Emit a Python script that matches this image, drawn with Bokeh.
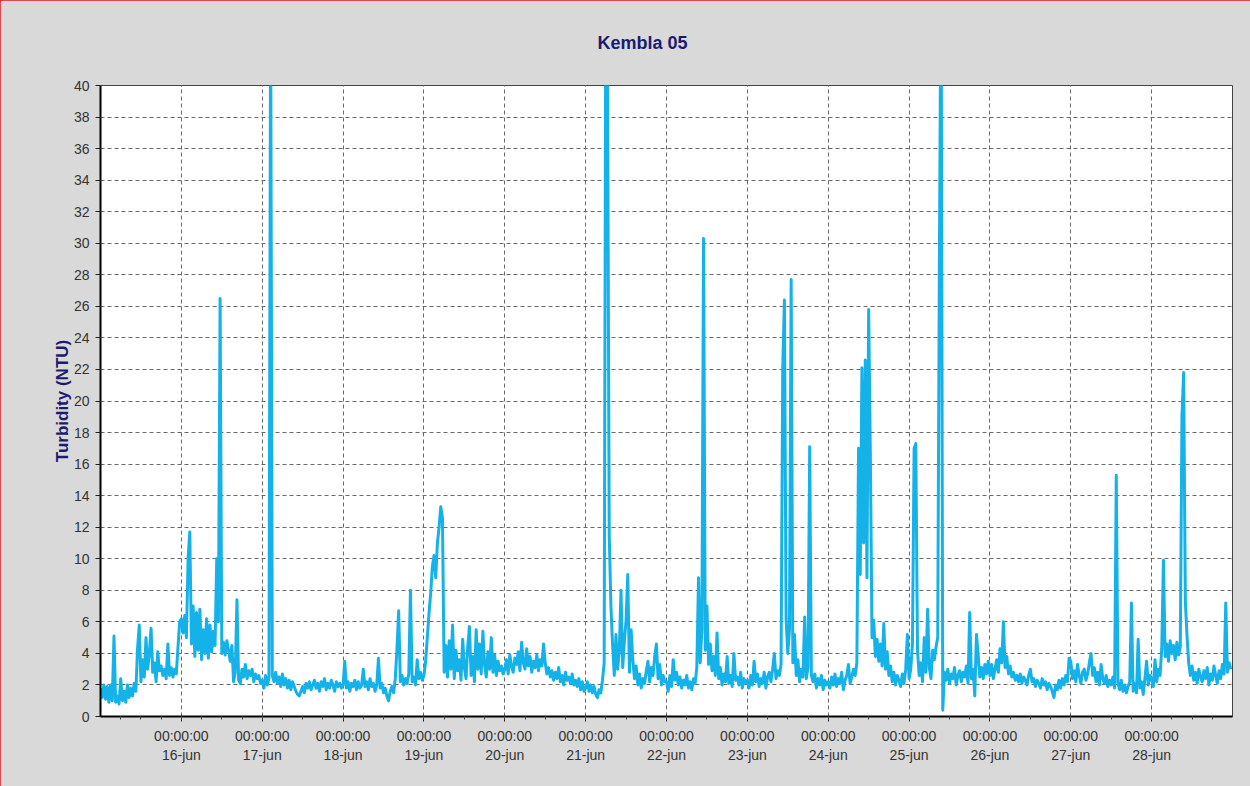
from bokeh.plotting import figure
from bokeh.models import FixedTicker, SingleIntervalTicker, ColumnDataSource, Range1d
from bokeh.embed import file_html
from bokeh.resources import INLINE

# ---- data: turbidity (NTU), one reading every 30 minutes, 15-jun 00:00 .. 28-jun 23:30
tick_days = ["16-jun", "17-jun", "18-jun", "19-jun", "20-jun", "21-jun", "22-jun",
             "23-jun", "24-jun", "25-jun", "26-jun", "27-jun", "28-jun"]

jun15 = [1.8, 1.2, 2.0, 1.1, 1.9, 0.9, 2.0, 1.0, 5.1, 0.9, 1.3, 0.8, 2.4, 1.0, 1.6, 0.9,
         2.0, 1.2, 1.8, 1.3, 2.1, 1.6, 4.3, 5.8, 2.2, 3.6, 2.5, 5.0, 3.0, 4.0, 5.6, 2.8,
         3.4, 2.2, 4.1, 2.9, 3.2, 2.6, 3.0, 2.4, 4.6, 2.6, 3.1, 2.5, 3.0, 2.7, 4.4, 6.0]
jun16 = [6.2, 5.3, 6.4, 5.0, 10.0, 11.7, 4.6, 7.0, 3.8, 6.6, 4.2, 6.8, 3.6, 5.5, 4.0, 6.2,
         3.7, 5.8, 4.1, 5.4, 4.5, 10.0, 6.0, 26.5, 4.0, 4.7, 3.9, 4.8, 4.2, 3.5, 4.5, 2.2,
         2.8, 7.4, 2.3, 2.1, 3.0, 2.5, 3.3, 2.4, 2.9, 2.6, 3.0, 2.2, 2.7, 2.4, 2.6, 2.1]
jun17 = [2.3, 1.8, 2.6, 2.0, 2.4, 45.0, 2.6, 2.2, 2.8, 2.1, 2.5, 1.9, 2.7, 2.0, 2.4, 1.8,
         2.3, 1.7, 2.2, 1.9, 1.6, 1.4, 1.3, 1.6, 1.9, 1.5, 2.1, 1.8, 2.2, 1.7, 2.0, 2.3,
         1.8, 2.1, 1.6, 2.2, 1.9, 2.4, 1.7, 2.1, 1.8, 2.3, 2.0, 1.6, 2.2, 1.9, 2.1, 1.8]
jun18 = [2.0, 3.5, 1.8, 2.2, 1.6, 2.1, 1.9, 2.3, 1.7, 2.2, 1.8, 2.0, 3.0, 1.9, 2.2, 1.7,
         2.4, 1.9, 2.1, 1.6, 2.0, 3.7, 1.8, 2.1, 1.5, 1.8, 1.3, 1.0, 1.6, 1.9, 1.5, 2.4,
         4.3, 6.7, 2.2, 2.6, 2.0, 2.4, 2.1, 2.7, 8.0, 2.2, 2.5, 2.0, 3.6, 2.4, 2.8, 2.3]
jun19 = [2.6, 3.5, 5.0, 6.5, 7.8, 9.5, 10.2, 8.8, 11.0, 12.0, 13.3, 12.6, 2.8, 4.5, 2.5, 4.8,
         3.0, 5.8, 2.4, 4.2, 2.9, 3.6, 2.3, 4.9, 3.1, 2.4, 4.4, 5.7, 2.6, 3.8, 2.2, 5.5,
         3.0, 4.6, 2.7, 5.4, 3.3, 2.5, 4.1, 3.0, 5.0, 2.8, 3.9, 2.6, 3.5, 2.9, 3.2, 2.7]
jun20 = [3.0, 3.6, 2.7, 3.9, 3.2, 2.8, 3.7, 3.3, 4.1, 2.9, 4.7, 3.4, 3.0, 4.3, 3.2, 3.8,
         2.8, 3.5, 3.1, 3.9, 2.9, 3.6, 3.2, 4.6, 3.4, 2.7, 3.1, 2.5, 2.9, 2.3, 2.8, 2.4,
         3.1, 2.2, 2.6, 2.0, 2.8, 2.3, 2.5, 2.1, 2.7, 2.0, 2.3, 1.9, 2.4, 1.7, 2.2, 1.6]
jun21 = [1.8, 2.2, 1.6, 2.0, 1.5, 1.9, 1.4, 1.2, 1.7, 1.5, 2.3, 3.4, 48.0, 40.0, 11.5, 7.0,
         4.5, 2.6, 5.2, 3.0, 4.2, 8.0, 3.1, 4.8, 6.1, 9.0, 2.8, 5.5, 3.6, 2.4, 3.2, 2.0,
         2.7, 1.8, 2.4, 2.1, 2.9, 3.5, 2.2, 3.1, 2.6, 3.8, 4.6, 2.4, 3.3, 2.0, 2.6, 2.2]
jun22 = [2.2, 1.6, 2.6, 1.9, 3.6, 2.3, 2.8, 2.0, 2.5, 1.8, 2.3, 2.0, 2.6, 1.8, 2.2, 1.7,
         2.4, 2.1, 3.1, 8.8, 3.4, 5.5, 30.3, 4.2, 7.0, 3.3, 4.6, 2.9, 3.8, 2.6, 5.3, 2.4,
         3.1, 2.0, 2.7, 2.2, 3.8, 2.1, 2.6, 1.9, 4.0, 2.3, 2.5, 2.0, 2.8, 1.8, 2.4, 2.1]
jun23 = [2.3, 1.8, 2.6, 2.0, 3.5, 2.2, 2.7, 1.9, 2.4, 2.1, 2.8, 1.8, 2.5, 2.8, 2.2, 3.0,
         4.0, 2.4, 2.9, 2.6, 3.3, 22.0, 26.4, 6.2, 4.0, 5.5, 27.7, 3.4, 5.2, 2.6, 3.6, 2.2,
         3.0, 2.5, 6.3, 2.4, 3.1, 17.1, 2.6, 2.2, 2.7, 1.8, 2.4, 2.0, 2.6, 1.7, 2.3, 2.0]
jun24 = [2.2, 1.8, 2.5, 2.0, 2.7, 1.9, 2.4, 2.1, 2.8, 1.7, 2.3, 2.6, 3.3, 2.1, 2.5, 3.0,
         2.6, 3.4, 17.0, 9.0, 22.1, 11.0, 22.6, 8.8, 25.8, 16.8, 5.0, 6.1, 3.8, 4.9, 3.5, 4.6,
         3.2, 5.9, 3.0, 4.1, 2.6, 3.2, 2.2, 2.8, 2.0, 2.6, 2.3, 1.9, 2.7, 2.1, 3.0, 5.2]
jun25 = [2.4, 3.0, 4.6, 17.0, 17.3, 4.2, 2.6, 3.4, 2.2, 5.0, 2.8, 6.8, 3.1, 2.4, 4.2, 3.6,
         4.4, 5.0, 28.9, 48.0, 0.4, 2.8, 2.3, 3.0, 2.1, 2.7, 2.4, 3.1, 2.0, 2.6, 2.9, 2.2,
         2.8, 2.5, 3.2, 2.1, 6.6, 2.4, 3.0, 1.3, 5.2, 3.9, 2.5, 3.1, 2.4, 3.3, 2.7, 3.5]
jun26 = [2.6, 3.3, 2.4, 3.0, 3.6, 2.8, 4.3, 3.4, 6.0, 3.1, 3.8, 2.7, 3.2, 2.5, 2.8, 2.3,
         2.6, 2.2, 2.7, 2.1, 2.5, 2.3, 2.0, 2.6, 3.0, 2.2, 2.4, 1.9, 2.3, 2.1, 1.8, 2.4,
         2.0, 2.2, 1.7, 2.1, 1.9, 1.6, 1.2, 2.0, 1.7, 2.3, 1.8, 2.4, 2.0, 2.6, 2.2, 3.7]
jun27 = [3.5, 2.4, 2.9, 2.2, 3.3, 2.6, 2.1, 2.8, 3.0, 2.3, 2.7, 3.4, 4.0, 2.6, 3.1, 2.2,
         2.8, 2.0, 3.3, 2.4, 2.1, 2.6, 1.9, 2.3, 2.0, 2.5, 1.8, 15.3, 2.1, 1.7, 2.3, 1.6,
         2.0, 1.5, 1.9, 2.2, 7.2, 1.6, 2.1, 1.5, 4.9, 1.8, 2.2, 1.4, 2.4, 3.5, 2.0, 2.6]
jun28 = [2.4, 1.9, 3.6, 2.2, 3.0, 2.6, 4.3, 9.9, 3.8, 4.6, 3.5, 4.8, 4.0, 4.5, 3.6, 4.7,
         3.9, 4.4, 19.1, 21.8, 7.3, 5.1, 3.4, 2.6, 3.2, 2.3, 2.8, 2.1, 3.0, 2.5, 2.2, 2.9,
         2.4, 3.1, 2.0, 2.7, 2.3, 3.2, 2.6, 2.1, 2.9, 2.4, 3.3, 2.7, 7.2, 2.8, 3.4, 3.0]

days = [jun15, jun16, jun17, jun18, jun19, jun20, jun21,
        jun22, jun23, jun24, jun25, jun26, jun27, jun28]
turbidity = [v for d in days for v in d]
hours = [0.5 * i for i in range(len(turbidity))]   # hours since 15-jun 00:00

source = ColumnDataSource(data=dict(hours=hours, ntu=turbidity))

BG = "#d9d9d9"
NAVY = "#1b1b72"
LINE = "#15b2ea"

p = figure(width=1250, height=786, output_backend="svg", toolbar_location=None,
           x_range=Range1d(0, 336), y_range=Range1d(0, 40),
           min_border_left=100, min_border_right=18, min_border_top=85, min_border_bottom=70,
           background_fill_color="white", border_fill_color=BG)
p.styles = {"outline": "2px solid #e3161f", "outline-offset": "-2px"}

p.line("hours", "ntu", source=source, line_color=LINE, line_width=3, line_join="round")

# title
p.title.text = "Kembla 05"
p.title.align = "left"
p.title.offset = 497
p.title.text_color = NAVY
p.title.text_font = "Liberation Sans"
p.title.text_font_size = "18px"
p.title.text_font_style = "bold"
p.title.vertical_align = "top"
p.title.standoff = 61

# x axis
major = [24 * (i + 1) for i in range(len(tick_days))]
minor = [6 * i for i in range(1, 56)]
p.xaxis.ticker = FixedTicker(ticks=major, minor_ticks=minor)
p.xaxis.major_label_overrides = {t: "00:00:00\n" + lbl for t, lbl in zip(major, tick_days)}
p.xgrid.ticker = FixedTicker(ticks=major)

# y axis
p.yaxis.ticker = SingleIntervalTicker(interval=2, num_minor_ticks=0)
p.yaxis.axis_label = "Turbidity (NTU)"
p.yaxis.axis_label_text_color = NAVY
p.yaxis.axis_label_text_font = "Liberation Sans"
p.yaxis.axis_label_text_font_size = "17px"
p.yaxis.axis_label_text_font_style = "bold"
p.yaxis.axis_label_standoff = -1

for ax in (p.xaxis, p.yaxis):
    ax.axis_line_color = "black"
    ax.axis_line_width = 2
    ax.major_tick_line_color = "#222222"
    ax.major_tick_out = 5
    ax.major_tick_in = 0
    ax.minor_tick_line_color = "#444444"
    ax.minor_tick_out = 3
    ax.minor_tick_in = 0
    ax.major_label_text_font = "Liberation Sans"
    ax.major_label_text_font_size = "14px"
    ax.major_label_text_color = "#333333"
    ax.major_label_standoff = 6

for g in (p.xgrid, p.ygrid):
    g.grid_line_color = "#6a6a6a"
    g.grid_line_dash = "4 3"
    g.grid_line_width = 1

p.outline_line_color = "#444444"
p.outline_line_width = 1

open("out.html", "w").write(file_html(p, INLINE))
